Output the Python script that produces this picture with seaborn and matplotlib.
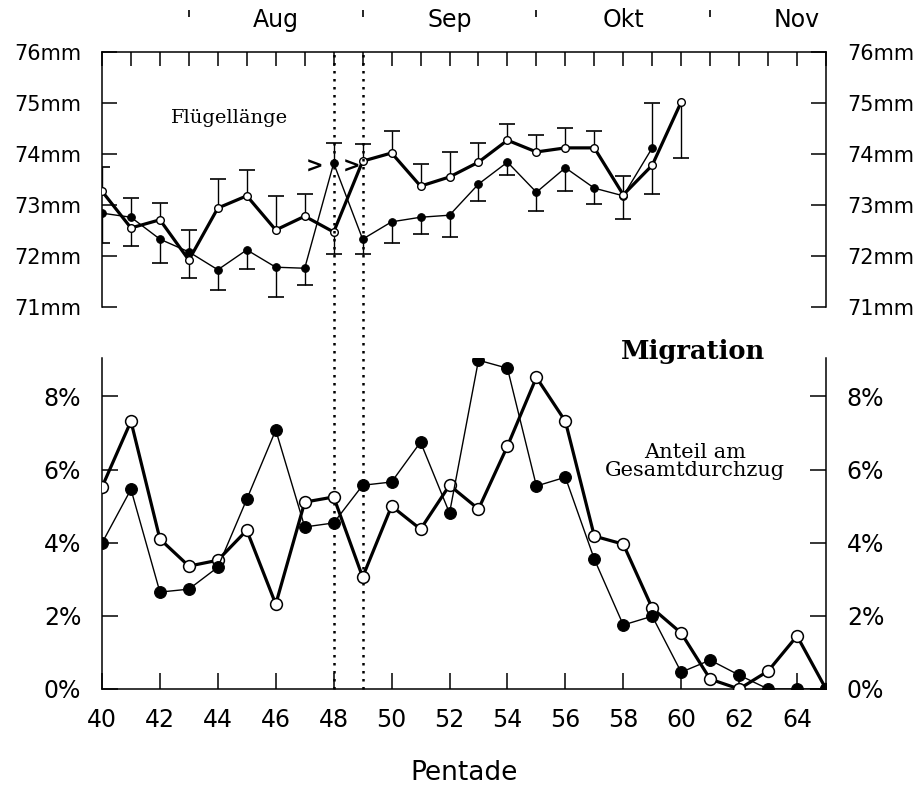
import matplotlib

matplotlib.use("Agg")
import matplotlib.pyplot as plt
import seaborn as sns

# Flügellänge (mm), open circles = thick line, filled circles = thin line
PENT_OPEN = list(range(40, 61))
WING_OPEN = [73.27, 72.55, 72.71, 71.92, 72.94, 73.18, 72.51, 72.78, 72.47, 73.86, 74.02,
             73.37, 73.55, 73.84, 74.27, 74.04, 74.12, 74.12, 73.20, 73.78, 75.02]
WING_OPEN_ERR = [73.75, 72.20, 73.04, 71.57, 73.51, 73.69, 73.18, 73.22, 72.04, 74.20, 74.45,
                 73.80, 74.04, 74.22, 74.59, 74.37, 74.51, 74.45, 73.57, 73.22, 73.92]
PENT_FILLED = list(range(40, 60))
WING_FILLED = [72.84, 72.76, 72.33, 72.08, 71.73, 72.12, 71.78, 71.76, 73.82, 72.33,
               72.67, 72.76, 72.80, 73.41, 73.84, 73.25, 73.73, 73.33, 73.18, 74.12]
WING_FILLED_ERR = [72.25, 73.14, 71.86, 72.51, 71.33, 71.75, 71.20, 71.43, 74.22, 72.04,
                   72.25, 72.43, 72.37, 73.08, 73.59, 72.88, 73.27, 73.02, 72.73, 75.00]

# Migration, Anteil am Gesamtdurchzug (%)
PENT_MIG = list(range(40, 66))
MIG_OPEN = [5.52, 7.32, 4.10, 3.36, 3.52, 4.34, 2.32, 5.11, 5.25, 3.06, 5.00, 4.37, 5.57,
            4.92, 6.64, 8.52, 7.32, 4.18, 3.96, 2.21, 1.53, 0.27, 0.00, 0.49, 1.45, 0.00]
MIG_FILLED = [3.99, 5.46, 2.65, 2.73, 3.33, 5.19, 7.08, 4.43, 4.54, 5.57, 5.66, 6.75, 4.81,
              8.99, 8.77, 5.55, 5.79, 3.55, 1.75, 1.99, 0.46, 0.79, 0.38, 0.00, 0.00, 0.00]

MONTH_START = [43, 49, 55, 61]
MONTH_MID = [46, 52, 58, 64]
MONTH_NAMES = ["Aug", "Sep", "Okt", "Nov"]
MARK_PENT = [48, 49]

MM_TICKS = [71, 72, 73, 74, 75, 76]
MM_LABELS = ["71mm", "72mm", "73mm", "74mm", "75mm", "76mm"]
PCT_TICKS = [0, 2, 4, 6, 8]
PCT_LABELS = ["0%", "2%", "4%", "6%", "8%"]
X_TICKS = list(range(40, 65, 2))

W, H = 924, 789
X0, X1 = 102, 826
SANS = ["DejaVu Sans"]
SERIF = ["DejaVu Serif"]


def frac_box(x0, y_top, x1, y_bot):
    return [x0 / W, 1 - y_bot / H, (x1 - x0) / W, (y_bot - y_top) / H]


def style_axis(ax, hide):
    for side in ["left", "right", "top", "bottom"]:
        ax.spines[side].set_color("black")
        ax.spines[side].set_linewidth(1.1)
    ax.spines[hide].set_visible(False)
    ax.set_facecolor("white")
    ax.grid(False)


def main() -> None:
    sns.set_theme(style="white")
    plt.rcParams["font.family"] = SANS

    fig = plt.figure(figsize=(W / 100, H / 100), dpi=100)
    ax_hi = fig.add_axes(frac_box(X0, 52, X1, 307))
    ax_lo = fig.add_axes(frac_box(X0, 358, X1, 689))

    # upper panel: wing length
    style_axis(ax_hi, "bottom")
    ax_hi.vlines(PENT_OPEN, WING_OPEN, WING_OPEN_ERR, color="black", lw=1.0, zorder=1)
    ax_hi.vlines(PENT_FILLED, WING_FILLED, WING_FILLED_ERR, color="black", lw=1.0, zorder=1)
    ax_hi.plot(PENT_OPEN, WING_OPEN_ERR, ls="none", marker="_", ms=11, mew=1.2, color="black", zorder=1)
    ax_hi.plot(PENT_FILLED, WING_FILLED_ERR, ls="none", marker="_", ms=11, mew=1.2, color="black", zorder=1)
    sns.lineplot(x=PENT_FILLED, y=WING_FILLED, ax=ax_hi, color="black", lw=1.0, marker="o",
                 markersize=5.5, markerfacecolor="black", markeredgecolor="black", zorder=3)
    sns.lineplot(x=PENT_OPEN, y=WING_OPEN, ax=ax_hi, color="black", lw=2.3, marker="o",
                 markersize=5.5, markerfacecolor="white", markeredgecolor="black",
                 markeredgewidth=1.0, zorder=4)
    ax_hi.set_xlim(40, 65)
    ax_hi.set_ylim(71, 76)
    ax_hi.set_xticks(range(40, 66))
    ax_hi.set_yticks(MM_TICKS, MM_LABELS)
    ax_hi.tick_params(axis="x", top=True, bottom=False, labeltop=False, labelbottom=False,
                      direction="in", length=10, width=1.1, color="black")
    ax_hi.tick_params(axis="y", left=True, right=True, labelleft=True, labelright=True,
                      direction="in", length=11, width=1.1, color="black", pad=15,
                      labelsize=15, labelcolor="black")
    ax_hi.set_xlabel("")
    ax_hi.set_ylabel("")

    xt = ax_hi.get_xaxis_transform()
    ax_hi.vlines(MONTH_START, 1.137, 1.165, transform=xt, clip_on=False, color="black", lw=1.2)
    for pos, name in zip(MONTH_MID, MONTH_NAMES):
        ax_hi.text(pos, 1.098, name, transform=xt, ha="center", va="baseline", fontsize=17,
                   color="black")

    ax_hi.text(44.4, 74.71, "Flügellänge", family=SERIF, fontsize=14, ha="center",
               va="center", color="black")
    ax_hi.text(47.35, 73.76, ">", fontsize=15, fontweight="bold", ha="center", va="center",
               color="black")
    ax_hi.text(48.63, 73.76, ">", fontsize=15, fontweight="bold", ha="center", va="center",
               color="black")

    # lower panel: migration share
    style_axis(ax_lo, "top")
    sns.lineplot(x=PENT_MIG, y=MIG_OPEN, ax=ax_lo, color="black", lw=2.3, marker="o",
                 markersize=8.5, markerfacecolor="white", markeredgecolor="black",
                 markeredgewidth=1.1, zorder=3)
    sns.lineplot(x=PENT_MIG, y=MIG_FILLED, ax=ax_lo, color="black", lw=1.0, marker="o",
                 markersize=8.5, markerfacecolor="black", markeredgecolor="black", zorder=4)
    ax_lo.set_xlim(40, 65)
    ax_lo.set_ylim(0, 9.05)
    ax_lo.set_xticks(X_TICKS, [str(t) for t in X_TICKS])
    ax_lo.set_yticks(PCT_TICKS, PCT_LABELS)
    ax_lo.tick_params(axis="x", bottom=True, top=False, direction="in", length=11.5, width=1.1,
                      color="black", pad=14, labelsize=17, labelcolor="black")
    ax_lo.tick_params(axis="y", left=True, right=True, labelleft=True, labelright=True,
                      direction="in", length=11.5, width=1.1, color="black", pad=15,
                      labelsize=17, labelcolor="black")
    ax_lo.set_xlabel("")
    ax_lo.set_ylabel("")

    ax_lo.text(60.4, 9.23, "Migration", family=SERIF, fontsize=18.5, fontweight="bold",
               ha="center", va="center", color="black", clip_on=False)
    ax_lo.text(60.48, 6.23, "Anteil am\nGesamtdurchzug", family=SERIF, fontsize=15,
               ha="center", va="center", linespacing=0.95, color="black")

    # dotted markers spanning both panels
    span = (689 - 52) / (689 - 358)
    for p in MARK_PENT:
        ax_lo.axvline(p, ymin=0, ymax=span, color="black", lw=1.8, ls=(0, (1, 2.2)),
                      clip_on=False, zorder=2)

    fig.text((X0 + X1) / 2 / W, 1 - 773 / H, "Pentade", ha="center", va="center",
             fontsize=19, color="black")

    fig.savefig("out.png", dpi=100, facecolor="white")
    plt.close(fig)


if __name__ == "__main__":
    main()
